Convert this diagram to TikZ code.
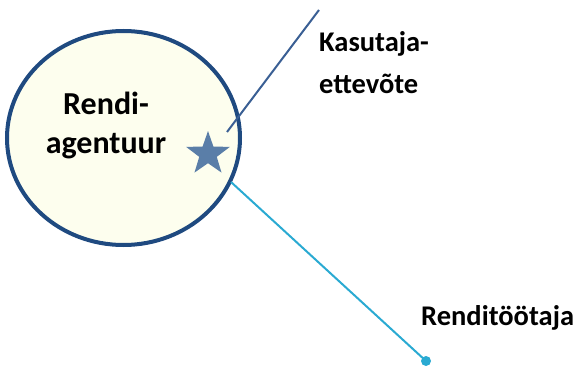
\documentclass[tikz,border=0pt]{standalone}
\usepackage{fontspec}
\setmainfont{Carlito}
\usetikzlibrary{shapes.geometric}
\definecolor{ringblue}{HTML}{1F4A80}
\definecolor{ringfill}{HTML}{FDFEEE}
\definecolor{starblue}{HTML}{5A7EA8}
\definecolor{darkline}{HTML}{3A5F94}
\definecolor{lightline}{HTML}{2AAAD2}
\tikzset{
  lbl/.style={font=\bfseries\fontsize{28.5}{42}\selectfont, text=black, inner sep=0pt, align=left},
  agency/.style={ellipse, draw=ringblue, fill=ringfill, line width=4pt, minimum width=233pt, minimum height=214pt, inner sep=0pt},
  starmark/.style={star, star points=5, star point ratio=2.5, fill=starblue, minimum size=46pt, inner sep=0pt},
  dotmark/.style={circle, fill=lightline, minimum size=10pt, inner sep=0pt},
}
\begin{document}
\begin{tikzpicture}[x=1pt,y=-1pt]
\useasboundingbox (0,0) rectangle (576,369);
\node[agency] (ag) at (123.5,138) {};
\node[font=\bfseries\fontsize{32}{39}\selectfont, align=center, inner sep=0pt, anchor=base] (agtxt) at (106,153) {Rendi-\\agentuur};
\coordinate (dStart) at (227,132);
\coordinate (dEnd) at (319,10);
\draw[darkline, line width=2pt] (dStart) -- (dEnd);
\coordinate (lStart) at (231,182);
\node[dotmark] (dot) at (426,361) {};
\draw[lightline, line width=2pt] (lStart) -- (dot.center);
\node[starmark] (st) at (208,154) {};
\node[lbl, anchor=base west] (ke) at (319,93) {Kasutaja-\\ettevõte};
\node[lbl, anchor=base west] (rt) at (421,325) {Renditöötaja};
\end{tikzpicture}
\end{document}
